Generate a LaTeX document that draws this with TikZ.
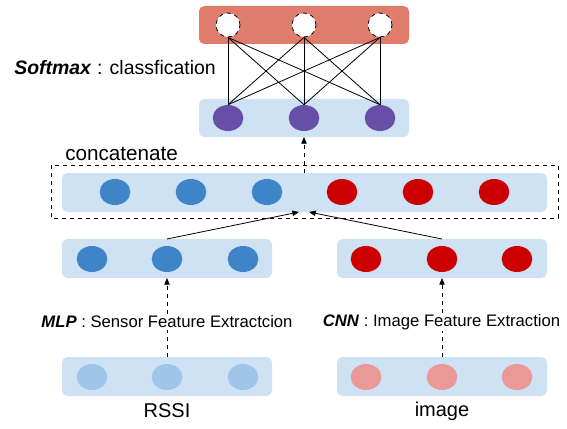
\documentclass[tikz,border=0pt]{standalone}
\usepackage{fontspec}
\setmainfont{Liberation Sans}
\usetikzlibrary{arrows.meta,shapes.geometric}
\definecolor{lbox}{RGB}{207,226,243}
\definecolor{sbox}{RGB}{224,124,108}
\definecolor{pnode}{RGB}{103,78,167}
\definecolor{bnode}{RGB}{61,133,198}
\definecolor{rnode}{RGB}{204,0,0}
\definecolor{lbnode}{RGB}{159,197,232}
\definecolor{lrnode}{RGB}{234,153,153}
\tikzset{
  layer/.style={fill=lbox, rounded corners=4pt, draw=none},
  neuron/.style={ellipse, minimum width=23pt, minimum height=19.5pt, inner sep=0pt, draw=none},
  outn/.style={circle, minimum size=18pt, inner sep=0pt, fill=white, draw=black, dashed, line width=0.6pt},
  conn/.style={line width=0.6pt},
  darr/.style={dashed, line width=0.6pt, -{Triangle[length=5pt,width=4pt]}},
  sarr/.style={line width=0.6pt, -{Triangle[length=5pt,width=4pt]}},
  lbl/.style={font=\fontsize{12.5pt}{14pt}\selectfont, inner sep=0pt}
}
\begin{document}
\begin{tikzpicture}[x=0.75pt,y=-0.75pt]
\useasboundingbox (0,0) rectangle (567,428);
% top softmax layer
\fill[sbox, rounded corners=4pt] (199,6) rectangle (409,44);
\fill[layer] (199,99) rectangle (409,137);
\foreach \i/\x in {1/228,2/304,3/380}{
  \node[outn] (o\i) at (\x,25) {};
  \node[neuron, fill=pnode] (p\i) at (\x,118) {};
}
\foreach \i in {1,2,3}{
  \foreach \j in {1,2,3}{
    \draw[conn] (p\i.north) -- (o\j.south);
  }
}
\node[font=\fontsize{14.6pt}{16pt}\selectfont, inner sep=0pt, anchor=west] (soft) at (14,68) {\textbf{\textit{Softmax}} : classfication};
% concatenate
\draw[dashed, line width=0.5pt] (51,165) rectangle (558,218);
\fill[layer] (62,173) rectangle (547,212);
\node[font=\fontsize{15.5pt}{17pt}\selectfont, inner sep=0pt, anchor=west] (concat) at (65,154) {concatenate};
\foreach \i/\x in {1/115,2/191,3/267}{
  \node[neuron, fill=bnode] (c\i) at (\x,192) {};
}
\foreach \i/\x in {4/342,5/418,6/494}{
  \node[neuron, fill=rnode] (c\i) at (\x,192) {};
}
\coordinate (ctop) at (304,173);
\coordinate (pbot) at (304,137);
\draw[darr] (ctop) -- (pbot);
\coordinate (cinL) at (299,212);
\coordinate (cinR) at (309,212);
% feature layers
\fill[layer] (62,239) rectangle (272,278);
\fill[layer] (337,239) rectangle (547,278);
\foreach \i/\x in {1/92,2/167,3/243}{
  \node[neuron, fill=bnode] (m\i) at (\x,259) {};
}
\foreach \i/\x in {1/366,2/442,3/517}{
  \node[neuron, fill=rnode] (n\i) at (\x,259) {};
}
\coordinate (mtop) at (167,239);
\coordinate (ntop) at (442,239);
\draw[sarr] (mtop) -- (cinL);
\draw[sarr] (ntop) -- (cinR);
% input layers
\fill[layer] (62,357) rectangle (272,396);
\fill[layer] (337,357) rectangle (547,396);
\foreach \i/\x in {1/92,2/167,3/243}{
  \node[neuron, fill=lbnode] (r\i) at (\x,377) {};
}
\foreach \i/\x in {1/366,2/442,3/517}{
  \node[neuron, fill=lrnode] (s\i) at (\x,377) {};
}
\coordinate (rtop) at (167,357);
\coordinate (stop) at (442,357);
\coordinate (mbot) at (167,278);
\coordinate (nbot) at (442,278);
\node[lbl, fill=white, inner sep=1pt] (mlp) at (167,322) {\textbf{\textit{MLP}} : Sensor Feature Extractcion};
\node[lbl, fill=white, inner sep=1pt] (cnn) at (441.5,322) {\textbf{\textit{CNN}} : Image Feature Extraction};
\draw[dashed, line width=0.6pt] (rtop) -- (mlp.south -| rtop);
\draw[darr] (mlp.north -| mbot) -- (mbot);
\draw[dashed, line width=0.6pt] (stop) -- (cnn.south -| stop);
\draw[darr] (cnn.north -| nbot) -- (nbot);
\node[font=\fontsize{15pt}{17pt}\selectfont, inner sep=0pt] (rssi) at (167,411) {RSSI};
\node[font=\fontsize{15pt}{17pt}\selectfont, inner sep=0pt] (img) at (442,411) {image};
\end{tikzpicture}
\end{document}
